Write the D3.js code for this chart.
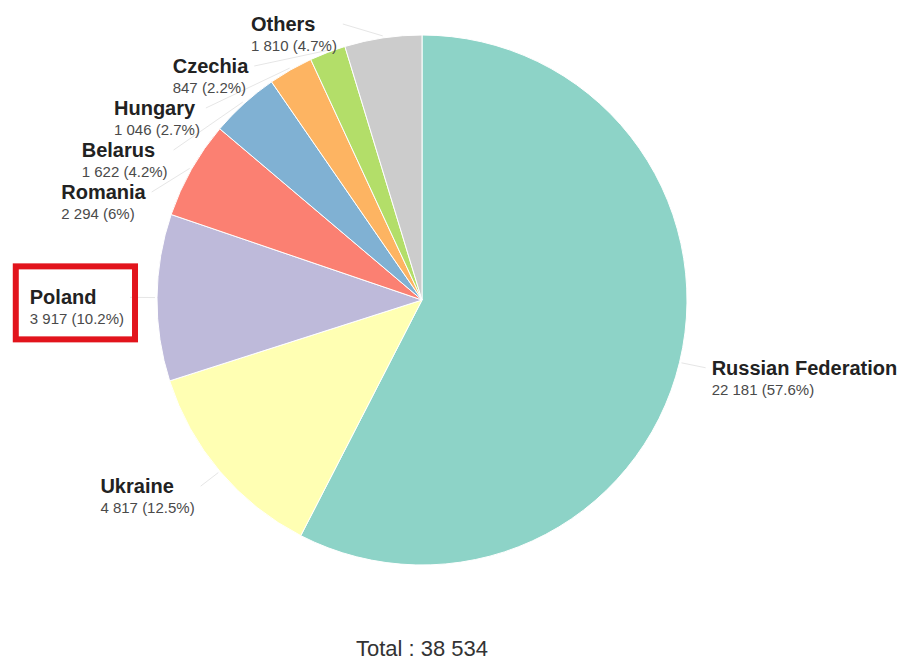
<!DOCTYPE html>
<html>
<head>
<meta charset="utf-8">
<script src="https://cdn.jsdelivr.net/npm/d3@7"></script>
<style>
  html, body { margin: 0; padding: 0; background: #fff; }
  svg { display: block; font-family: "Liberation Sans", Arial, sans-serif; }
</style>
</head>
<body>
<svg id="chart" width="899" height="661"></svg>
<script>
// Asylum applications by country of citizenship
const countries = ["Russian Federation", "Ukraine", "Poland", "Romania", "Belarus", "Hungary", "Czechia", "Others"];
const values    = [22181, 4817, 3917, 2294, 1622, 1046, 847, 1810];
const colors    = ["#8dd3c7", "#ffffb3", "#bebada", "#fb8072", "#80b1d3", "#fdb462", "#b3de69", "#cccccc"];
const highlighted = ["Poland"];

const width = 899, height = 661;
const cx = 422, cy = 300, radius = 265;
const labelRx = 298, labelRy = 288;   // ellipse on which label anchors sit
const lineGap = 42;                   // minimum vertical distance between stacked labels
const topLimit = 24;

const total = d3.sum(values);
const loc = d3.formatLocale({ decimal: ".", thousands: "\u00a0", grouping: [3], currency: ["", ""] });
const fmtNum = v => loc.format(",")(v).replace(/\u00a0/g, " ");
const fmtPct = v => String(+(v / total * 100).toFixed(1)) + "%";

const svg = d3.select("#chart");
const data = countries.map((c, i) => ({ name: c, value: values[i], color: colors[i] }));

const pie = d3.pie().sort(null).value(d => d.value).startAngle(0).endAngle(2 * Math.PI);
const arcs = pie(data);
const arc = d3.arc().innerRadius(0).outerRadius(radius);

const g = svg.append("g").attr("transform", `translate(${cx},${cy})`);

g.selectAll("path.slice")
  .data(arcs)
  .join("path")
  .attr("class", "slice")
  .attr("d", arc)
  .attr("fill", d => d.data.color)
  .attr("stroke", "#ffffff")
  .attr("stroke-width", 1);

// Label layout: natural position on the label ellipse, then stacked to avoid overlap
const labels = arcs.map(a => {
  const mid = (a.startAngle + a.endAngle) / 2;
  return {
    arc: a,
    mid,
    side: Math.sin(mid) >= 0 ? "right" : "left",
    y: -labelRy * Math.cos(mid)
  };
});

["left", "right"].forEach(side => {
  const list = labels.filter(l => l.side === side).sort((a, b) => a.y - b.y);
  let prev = -Infinity;
  list.forEach(l => {
    l.y = Math.max(l.y, topLimit - cy, prev + lineGap);
    prev = l.y;
  });
});

labels.forEach(l => {
  const t = Math.min(1, Math.abs(l.y) / labelRy);
  const dx = labelRx * Math.sqrt(1 - t * t);
  l.x = l.side === "right" ? dx : -dx;
});

// Connectors
const lineGen = d3.line();
g.selectAll("path.connector")
  .data(labels)
  .join("path")
  .attr("class", "connector")
  .attr("fill", "none")
  .attr("stroke", "#e6e6e6")
  .attr("stroke-width", 1)
  .attr("d", l => {
    const p0 = [Math.sin(l.mid) * (radius + 2), -Math.cos(l.mid) * (radius + 2)];
    const p1 = [l.x + (l.side === "right" ? -6 : 6), l.y];
    return lineGen([p0, p1]);
  });

// Label texts
const lg = g.selectAll("g.label")
  .data(labels)
  .join("g")
  .attr("class", "label");

lg.each(function (l) {
  const sel = d3.select(this);
  const name = sel.append("text")
    .attr("font-size", 20)
    .attr("font-weight", "bold")
    .attr("fill", "#222")
    .attr("y", l.y + 7)
    .text(l.arc.data.name);
  const val = sel.append("text")
    .attr("font-size", 15)
    .attr("fill", "#4a4a4a")
    .attr("y", l.y + 27)
    .text(`${fmtNum(l.arc.data.value)} (${fmtPct(l.arc.data.value)})`);
  const w = Math.max(name.node().getComputedTextLength(), val.node().getComputedTextLength());
  const x0 = l.side === "right" ? l.x : l.x - w;
  name.attr("x", x0);
  val.attr("x", x0);
  l.bbox = { x: x0, y: l.y - 8, w, h: 40 };
});

// Highlight frame
g.selectAll("rect.highlight")
  .data(labels.filter(l => highlighted.includes(l.arc.data.name)))
  .join("rect")
  .attr("class", "highlight")
  .attr("x", l => l.bbox.x - 14)
  .attr("y", l => l.bbox.y - 23)
  .attr("width", l => l.bbox.w + 25)
  .attr("height", l => l.bbox.h + 33)
  .attr("fill", "none")
  .attr("stroke", "#e2141c")
  .attr("stroke-width", 6);

// Total
svg.append("text")
  .attr("x", cx)
  .attr("y", 656)
  .attr("text-anchor", "middle")
  .attr("font-size", 22)
  .attr("fill", "#333")
  .text(`Total : ${fmtNum(total)}`);
</script>
</body>
</html>
